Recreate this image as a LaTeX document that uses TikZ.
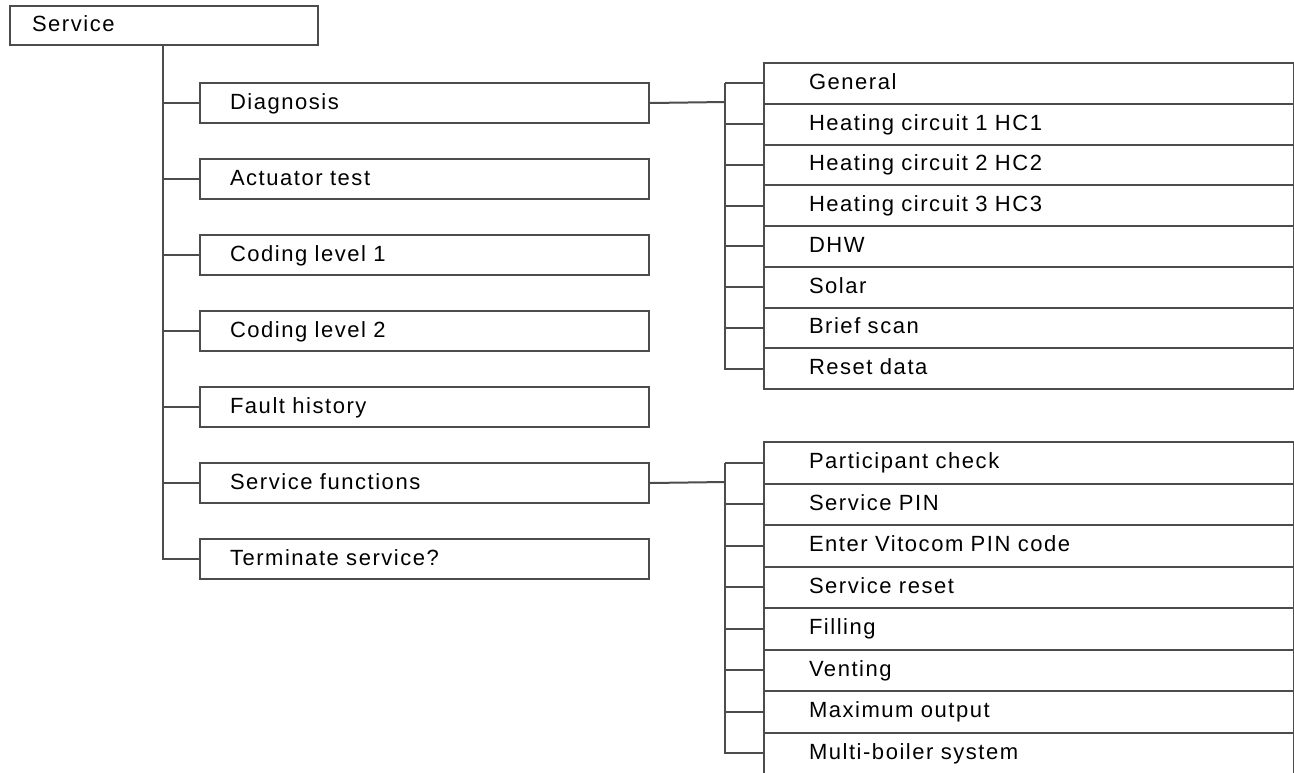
\documentclass[tikz,border=0pt]{standalone}
\usepackage{fontspec}
\setmainfont{Liberation Sans}[LetterSpace=7]
\begin{document}
\begin{tikzpicture}[x=1pt,y=-1pt,
  box/.style={draw=black!70, line width=2pt, fill=white, rectangle, anchor=north west,
    inner ysep=0pt, text height=15.8pt, text depth=3.8pt, align=left,
    font=\fontsize{22}{26}\selectfont},
  rootbox/.style={box, inner xsep=22pt, text width=264pt, minimum height=39pt},
  lbox/.style={box, inner xsep=30pt, text width=389pt, minimum height=40pt},
  rbox/.style={box, inner xsep=45pt, text width=440pt, minimum height=#1},
  conn/.style={draw=black!70, line width=2pt}
]
\useasboundingbox (0,0) rectangle (1294,772);
\clip (0,0) rectangle (1294,772);

% root
\node[rootbox] (svc) at (9,5) {Service};

% left column
\node[lbox] (diag)  at (199,82)  {Diagnosis};
\node[lbox] (act)   at (199,158) {Actuator test};
\node[lbox] (cod1)  at (199,234) {Coding level 1};
\node[lbox] (cod2)  at (199,310) {Coding level 2};
\node[lbox] (fault) at (199,386) {Fault history};
\node[lbox] (sfun)  at (199,462) {Service functions};
\node[lbox] (term)  at (199,538) {Terminate service?};

% diagnosis submenu
\foreach \t [count=\i from 0] in {General,Heating circuit 1 HC1,Heating circuit 2 HC2,Heating circuit 3 HC3,DHW,Solar,Brief scan,Reset data}
  \node[rbox=40.75pt] (g\i) at (763,62+40.75*\i) {\t};

% service functions submenu
\foreach \t [count=\i from 0] in {Participant check,Service PIN,Enter Vitocom PIN code,Service reset,Filling,Venting,Maximum output,Multi-boiler system}
  \node[rbox=41.5pt] (s\i) at (763,441+41.5*\i) {\t};

% main trunk
\coordinate (tk) at (163,44);
\draw[conn] (tk) |- (term.west);
\foreach \n in {diag,act,cod1,cod2,fault,sfun}
  \draw[conn] (tk |- \n.west) -- (\n.west);

% diagnosis trunk
\coordinate (dk) at (725,102);
\draw[conn] (diag.east) -- (dk);
\draw[conn] (dk |- g0.west) |- (g7.west);
\foreach \i in {0,...,6}
  \draw[conn] (dk |- g\i.west) -- (g\i.west);

% service functions trunk
\coordinate (sk) at (725,482);
\draw[conn] (sfun.east) -- (sk);
\draw[conn] (sk |- s0.west) |- (s7.west);
\foreach \i in {0,...,6}
  \draw[conn] (sk |- s\i.west) -- (s\i.west);
\end{tikzpicture}
\end{document}
